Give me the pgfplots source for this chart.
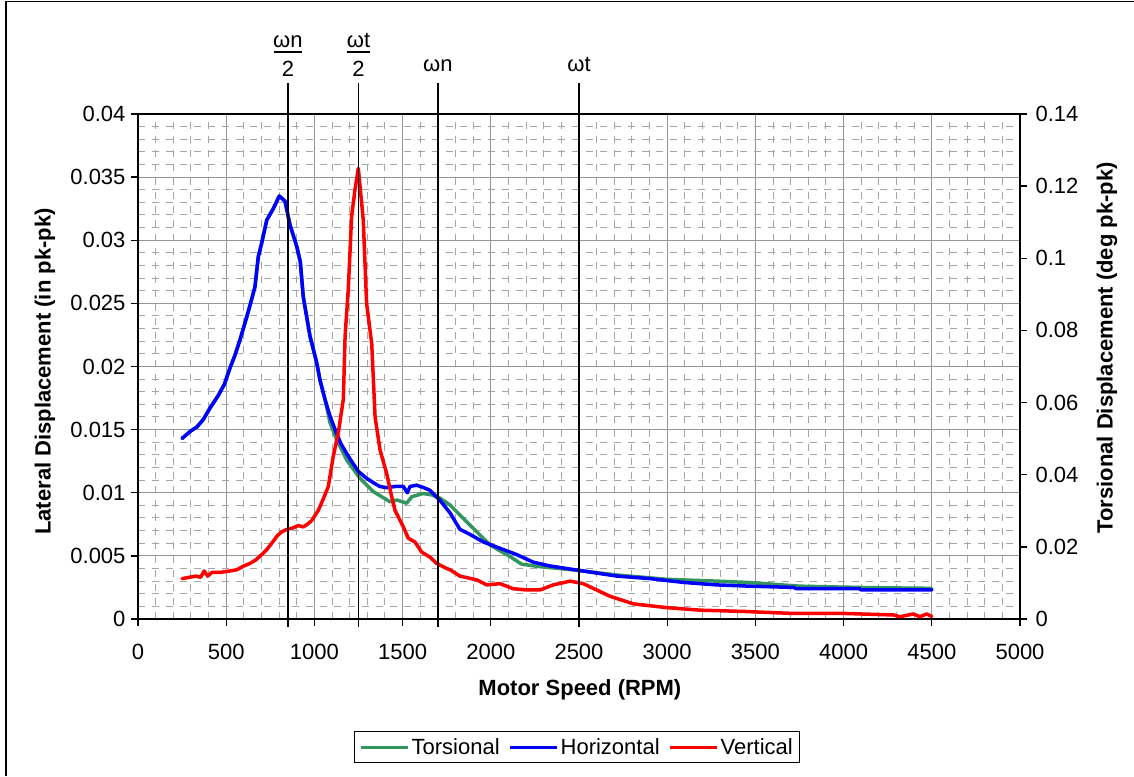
\documentclass[border=0pt]{standalone}
\usepackage{pgfplots}
\usepackage{pgfplotstable}
\pgfplotsset{compat=1.18}
\usepackage{fontspec}
\setmainfont{Liberation Sans}
\definecolor{tgreen}{RGB}{51,150,95}
\definecolor{hblue}{RGB}{0,0,255}
\definecolor{vred}{RGB}{255,0,0}
\definecolor{majgrid}{RGB}{150,150,150}
\definecolor{mingrid}{RGB}{165,165,165}
\newcommand{\fs}{\fontsize{22}{26}\selectfont}

% Torsional displacement (deg pk-pk), right axis
\pgfplotstableread{
rpm val
250 0.0501
300 0.0522
333 0.0532
370 0.0553
408 0.0585
455 0.0620
490 0.0651
522 0.0697
550 0.0732
578 0.0774
616 0.0837
640 0.0879
663 0.0921
682 0.1005
700 0.1040
730 0.1106
767 0.1138
801 0.1173
833 0.1159
862 0.1092
900 0.1033
920 0.0991
937 0.0893
975 0.0784
1013 0.0711
1032 0.0662
1060 0.0609
1088 0.0545
1126 0.0497
1183 0.0441
1258 0.0390
1334 0.0353
1429 0.0325
1467 0.0330
1523 0.0321
1552 0.0339
1617 0.0348
1665 0.0344
1712 0.0335
1769 0.0316
1844 0.0279
1920 0.0242
1996 0.0205
2109 0.0173
2175 0.0152
2279 0.0145
2430 0.0138
2524 0.0133
2714 0.0122
2997 0.0110
3281 0.0105
3470 0.0101
3753 0.0091
4131 0.0087
4500 0.0085
}\torsional

% Horizontal lateral displacement (in pk-pk), left axis
\pgfplotstableread{
rpm val
250 0.0143
300 0.0149
333 0.0152
370 0.0158
408 0.0167
455 0.0177
490 0.0186
522 0.0199
550 0.0209
578 0.0221
616 0.0239
640 0.0251
663 0.0263
682 0.0287
700 0.0297
730 0.0316
767 0.0325
801 0.0335
833 0.0331
862 0.0312
900 0.0295
920 0.0283
937 0.0255
975 0.0224
1013 0.0203
1032 0.0189
1060 0.0174
1090 0.0160
1126 0.0147
1150 0.0139
1183 0.0131
1215 0.0124
1249 0.0117
1290 0.0112
1334 0.0108
1370 0.0105
1410 0.0104
1460 0.0105
1504 0.0105
1527 0.0100
1542 0.0105
1580 0.0106
1620 0.0104
1655 0.0102
1712 0.0094
1769 0.0084
1825 0.0071
1882 0.0067
1958 0.0061
2052 0.0056
2147 0.0051
2241 0.0045
2336 0.0042
2430 0.0040
2524 0.0038
2714 0.0034
2902 0.0032
3091 0.0029
3186 0.0028
3281 0.0027
3470 0.0026
3720 0.0025
3730 0.0024
4090 0.0024
4100 0.0023
4500 0.0023
}\horizontal

% Vertical lateral displacement (in pk-pk), left axis
\pgfplotstableread{
rpm val
250 0.0032
290 0.0033
330 0.0034
355 0.0033
375 0.0038
395 0.0034
420 0.0037
470 0.0037
520 0.0038
560 0.0039
600 0.0042
635 0.0044
670 0.0047
701 0.0051
730 0.0055
758 0.0060
790 0.0066
815 0.0069
843 0.0071
875 0.0072
909 0.0074
937 0.0073
960 0.0075
985 0.0078
1022 0.0086
1050 0.0095
1079 0.0105
1107 0.0129
1135 0.0147
1164 0.0174
1174 0.0224
1192 0.0261
1211 0.0319
1230 0.0340
1249 0.0357
1277 0.0316
1296 0.0250
1325 0.0218
1344 0.0160
1372 0.0134
1410 0.0115
1438 0.0097
1457 0.0086
1504 0.0073
1532 0.0064
1570 0.0061
1608 0.0053
1655 0.0049
1693 0.0044
1750 0.0040
1769 0.0039
1825 0.0034
1920 0.0031
1977 0.0027
2052 0.0028
2127 0.0024
2203 0.0023
2279 0.0023
2354 0.0027
2449 0.0030
2524 0.0028
2600 0.0023
2676 0.0018
2808 0.0012
2997 0.0009
3186 0.0007
3432 0.0006
3696 0.00045
3980 0.00045
4282 0.00032
4320 0.00018
4395 0.0004
4433 0.00018
4471 0.0004
4500 0.0002
}\vertical

\pgfplotsset{
  common/.style={
    scale only axis, width=882pt, height=505pt,
    at={(138pt,157pt)}, anchor=south west,
    xmin=0, xmax=5000,
    xtick={0,500,1000,1500,2000,2500,3000,3500,4000,4500,5000},
    scaled ticks=false,
    /pgf/number format/assume math mode=true,
    tick label style={font=\fs},
    tick align=outside,
    major tick length=7pt,
    minor tick length=0pt,
    tick style={black, line width=1.3pt},
    axis line style={black, line width=1.5pt},
  },
  data/.style={line width=3.5pt, line join=round, line cap=round},
}

\begin{document}
\begin{tikzpicture}[font=\fs]
\useasboundingbox (0,0) rectangle (1134pt,776pt);
\draw[line width=1.5pt] (6pt,0pt) -- (6pt,774.5pt) -- (1134pt,774.5pt);

% grid-only axis
\begin{axis}[common,
  ymin=0, ymax=0.04,
  ytick={0,0.005,0.01,0.015,0.02,0.025,0.03,0.035,0.04},
  minor x tick num=4, minor y tick num=4,
  xticklabels={}, yticklabels={},
  major tick length=0pt,
  axis line style={draw=none},
  grid=both,
  major grid style={majgrid, line width=1.2pt},
  minor grid style={mingrid, line width=1pt, dash pattern=on 7pt off 7pt},
]
\addplot[draw=none, forget plot] coordinates {(0,0)};
\end{axis}

% right axis: torsional
\begin{axis}[common,
  axis y line*=right, axis x line=none,
  ymin=0, ymax=0.14,
  ytick={0,0.02,0.04,0.06,0.08,0.1,0.12,0.14},
  yticklabels={0,0.02,0.04,0.06,0.08,0.1,0.12,0.14},
  yticklabel style={anchor=west, xshift=5pt},
]
\addplot[data, tgreen] table[x=rpm, y=val] {\torsional};
\end{axis}

% left axis: lateral
\begin{axis}[common,
  clip=false,
  ymin=0, ymax=0.04,
  xtick pos=left, ytick pos=left,
  xticklabels={0,500,1000,1500,2000,2500,3000,3500,4000,4500,5000},
  xticklabel style={yshift=-15pt},
  yticklabel style={xshift=-2pt},
  ytick={0,0.005,0.01,0.015,0.02,0.025,0.03,0.035,0.04},
  yticklabels={0,0.005,0.01,0.015,0.02,0.025,0.03,0.035,0.04},
  legend columns=3,
  legend style={at={(0.498,-0.2218)}, anchor=north, draw=black, line width=1pt,
    font=\fs, inner xsep=5pt, inner ysep=5pt,
    /tikz/every even column/.append style={column sep=7pt}},
  legend image code/.code={\draw[#1, line width=3pt, line cap=butt] (0pt,0pt) -- (47pt,0pt);},
]
\addlegendimage{tgreen}
\addlegendentry{Torsional}
\addplot[data, hblue] table[x=rpm, y=val] {\horizontal};
\addlegendentry{Horizontal}
\addplot[data, vred] table[x=rpm, y=val] {\vertical};
\addlegendentry{Vertical}

% reference speed lines
\draw[black, line width=1.6pt] ([yshift=-8pt]axis cs:850,0) -- ([yshift=31pt]axis cs:850,0.04);
\draw[black, line width=1.6pt] ([yshift=-8pt]axis cs:1250,0) -- ([yshift=31pt]axis cs:1250,0.04);
\draw[black, line width=1.6pt] ([yshift=-8pt]axis cs:1700,0) -- ([yshift=31pt]axis cs:1700,0.04);
\draw[black, line width=1.6pt] ([yshift=-8pt]axis cs:2500,0) -- ([yshift=31pt]axis cs:2500,0.04);
\node[anchor=base, inner sep=0pt] at ([yshift=66pt]axis cs:850,0.04) {ωn};
\draw[line width=2pt] ([xshift=-14pt,yshift=62pt]axis cs:850,0.04) -- ([xshift=14pt,yshift=62pt]axis cs:850,0.04);
\node[anchor=base, inner sep=0pt] at ([yshift=37pt]axis cs:850,0.04) {2};
\node[anchor=base, inner sep=0pt] at ([yshift=66pt]axis cs:1250,0.04) {ωt};
\draw[line width=2pt] ([xshift=-11.5pt,yshift=62pt]axis cs:1250,0.04) -- ([xshift=11.5pt,yshift=62pt]axis cs:1250,0.04);
\node[anchor=base, inner sep=0pt] at ([yshift=37pt]axis cs:1250,0.04) {2};
\node[anchor=base, inner sep=0pt] at ([yshift=42pt]axis cs:1700,0.04) {ωn};
\node[anchor=base, inner sep=0pt] at ([yshift=42pt]axis cs:2500,0.04) {ωt};

% axis titles
\node[rotate=90, font=\fs\bfseries] at ([xshift=-93pt]rel axis cs:0,0.49) {Lateral Displacement (in pk-pk)};
\node[rotate=90, font=\fs\bfseries] at ([xshift=87pt]rel axis cs:1,0.537) {Torsional Displacement (deg pk-pk)};
\node[font=\fs\bfseries] at ([yshift=-71pt]rel axis cs:0.501,0) {Motor Speed (RPM)};
\end{axis}
\end{tikzpicture}
\end{document}
